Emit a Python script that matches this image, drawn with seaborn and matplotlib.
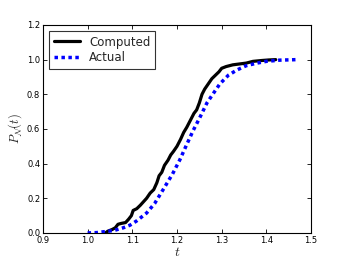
import pandas as pd
import matplotlib
matplotlib.use("Agg")
import matplotlib.pyplot as plt
import seaborn as sns

computed_t = [1.040, 1.045, 1.055, 1.062, 1.068, 1.075, 1.085, 1.092, 1.098, 1.102,
              1.110, 1.118, 1.125, 1.132, 1.140, 1.148, 1.155, 1.160, 1.166, 1.172,
              1.180, 1.186, 1.192, 1.200, 1.208, 1.215, 1.222, 1.230, 1.238, 1.244,
              1.250, 1.256, 1.262, 1.270, 1.278, 1.286, 1.294, 1.300, 1.310, 1.325,
              1.340, 1.355, 1.370, 1.390, 1.405, 1.421]
computed_p = [0.000, 0.010, 0.020, 0.030, 0.050, 0.055, 0.060, 0.080, 0.100, 0.130,
              0.140, 0.160, 0.180, 0.200, 0.230, 0.250, 0.290, 0.330, 0.350, 0.390,
              0.420, 0.450, 0.470, 0.500, 0.540, 0.580, 0.610, 0.650, 0.690, 0.710,
              0.750, 0.800, 0.830, 0.860, 0.890, 0.910, 0.930, 0.950, 0.960, 0.970,
              0.975, 0.980, 0.990, 0.995, 0.998, 1.000]

actual_t = [1.000, 1.020, 1.040, 1.060, 1.080, 1.095, 1.110, 1.132, 1.150, 1.169,
            1.190, 1.206, 1.220, 1.236, 1.250, 1.267, 1.280, 1.296, 1.315, 1.334,
            1.355, 1.379, 1.400, 1.430, 1.468]
actual_p = [0.000, 0.002, 0.008, 0.015, 0.030, 0.045, 0.070, 0.115, 0.170, 0.250,
            0.340, 0.420, 0.500, 0.590, 0.660, 0.750, 0.800, 0.860, 0.910, 0.940,
            0.965, 0.980, 0.990, 0.997, 1.000]

sns.set_style("white", {"xtick.direction": "in", "ytick.direction": "in",
                        "axes.edgecolor": "black"})
plt.rcParams["font.family"] = ["DejaVu Sans"]
plt.rcParams["mathtext.fontset"] = "cm"

fig = plt.figure(figsize=(3.46, 2.6), dpi=100)
ax = fig.add_axes([0.124, 0.104, 0.775, 0.8])

df_c = pd.DataFrame({"t": computed_t, "p": computed_p})
df_a = pd.DataFrame({"t": actual_t, "p": actual_p})
sns.lineplot(data=df_c, x="t", y="p", ax=ax, color="black", lw=2.3,
             label="Computed", sort=False)
sns.lineplot(data=df_a, x="t", y="p", ax=ax, color="blue", lw=2.5,
             linestyle=(0, (1.0, 1.0)), label="Actual", sort=False)

ax.set_xlim(0.9, 1.5)
ax.set_ylim(0, 1.2)
ax.set_xticks([0.9, 1.0, 1.1, 1.2, 1.3, 1.4, 1.5])
ax.set_yticks([0.0, 0.2, 0.4, 0.6, 0.8, 1.0, 1.2])
ax.tick_params(labelsize=6, length=3, width=0.6, top=True, right=True,
               bottom=True, left=True, pad=2, colors="black")
for s in ax.spines.values():
    s.set_linewidth(0.8)
ax.set_xlabel(r"$t$", fontsize=10, labelpad=0)
ax.set_ylabel(r"$P_{\mathcal{N}}(t)$", fontsize=9, labelpad=2)

leg = ax.legend(loc="upper left", fontsize=8.5, frameon=True, fancybox=False,
                edgecolor="black", handlelength=2.2, borderpad=0.4,
                labelspacing=0.2, borderaxespad=0.5)
leg.get_frame().set_linewidth(0.8)

fig.savefig("out.png", dpi=100)
